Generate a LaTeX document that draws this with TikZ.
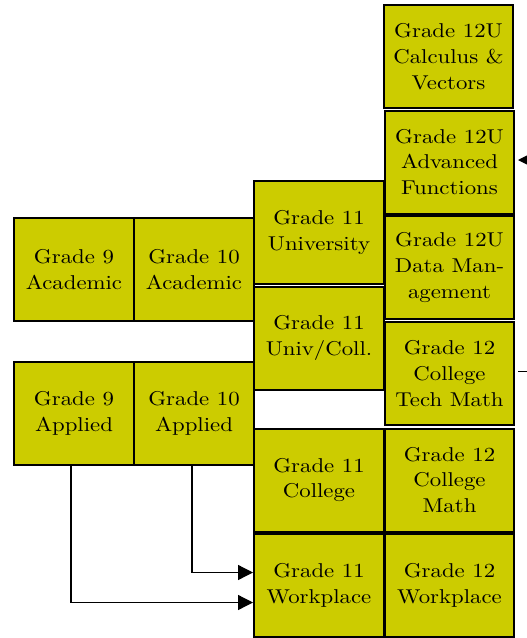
\documentclass[tikz,border=0pt]{standalone}
\usepackage{fontspec}
\newfontfamily\boxfont{lmroman10-regular.otf}[FakeStretch=1.14]
\usetikzlibrary{arrows.meta}
\definecolor{boxfill}{RGB}{204,204,0}
\tikzset{
  gbox/.style={draw=black, line width=2pt, fill=boxfill, inner sep=0pt,
    minimum width=#1, minimum height=103pt, align=center,
    font=\boxfont\fontsize{20}{25.7}\selectfont, text=black},
  gbox/.default=120pt,
  conn/.style={line width=1.3pt, draw=black},
  arr/.style={conn, -{Triangle[length=15pt,width=15pt]}}
}
\begin{document}
\begin{tikzpicture}[x=1pt,y=-1pt]
\useasboundingbox (0,0) rectangle (527,638);
% grade 9/10
\node[gbox=120pt] (g9a)  at (74,269.5)  {Grade 9\\Academic};
\node[gbox=120pt] (g10a) at (194,269.5) {Grade 10\\Academic};
\node[gbox=120pt] (g9p)  at (74,413.5)  {Grade 9\\Applied};
\node[gbox=120pt] (g10p) at (194,413.5) {Grade 10\\Applied};
% grade 11
\node[gbox=130pt] (g11u)  at (319,232.5) {Grade 11\\University};
\node[gbox=130pt] (g11uc) at (319,338)   {Grade 11\\Univ/Coll.};
\node[gbox=130pt] (g11c)  at (319,480)   {Grade 11\\College};
\node[gbox=130pt] (g11w)  at (319,585.5) {Grade 11\\Workplace};
% grade 12
\node[gbox=129pt] (g12cv) at (448.5,56.5) {Grade 12U\\Calculus \&\\Vectors};
\node[gbox=129pt] (g12af) at (449.5,162)  {Grade 12U\\Advanced\\Functions};
\node[gbox=129pt] (g12dm) at (449.5,267.5) {Grade 12U\\Data Man-\\agement};
\node[gbox=129pt] (g12ct) at (449.5,373.5) {Grade 12\\College\\Tech Math};
\node[gbox=129pt] (g12cm) at (449.5,480)  {Grade 12\\College\\Math};
\node[gbox=129pt] (g12w)  at (449.5,585.5) {Grade 12\\Workplace};
% connectors
\coordinate (rin) at (545,160);
\coordinate (rout) at (545,371.5);
\draw[arr, shorten >=3pt] (rin) -- (g12af.east |- rin);
\draw[conn, shorten <=3pt] (g12ct.east |- rout) -- (rout);
\draw[arr] (g9p.south -| 71,0) |- (g11w.west |- 0,602.5);
\draw[arr] (g10p.south -| 192,0) |- (g11w.west |- 0,572.5);
\end{tikzpicture}
\end{document}
